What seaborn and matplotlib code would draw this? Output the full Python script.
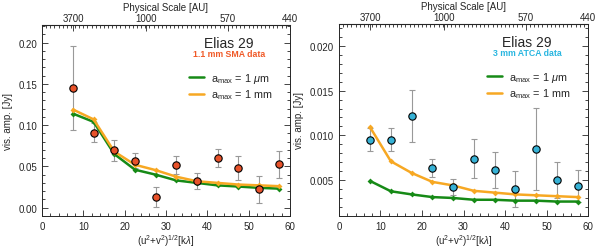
import matplotlib
matplotlib.use("Agg")
import matplotlib.pyplot as plt
import numpy as np
import seaborn as sns
from matplotlib.ticker import MultipleLocator
from matplotlib.lines import Line2D

# uv distance bins [klambda]
uv = [7.5, 12.5, 17.5, 22.5, 27.5, 32.5, 37.5, 42.5, 47.5, 52.5, 57.5]

# 1.1 mm SMA data
sma_amp = [0.145, 0.091, 0.0695, 0.057, 0.0126, 0.052, 0.032, 0.0606, 0.0484, 0.022, 0.0525]
sma_err = [0.051, 0.012, 0.013, 0.009, 0.012, 0.011, 0.010, 0.011, 0.0145, 0.016, 0.016]
sma_mod_um = [0.114, 0.104, 0.065, 0.046, 0.040, 0.033, 0.030, 0.027, 0.0256, 0.024, 0.023]
sma_mod_mm = [0.119, 0.107, 0.068, 0.052, 0.0455, 0.0375, 0.032, 0.030, 0.028, 0.027, 0.026]

# 3 mm ATCA data
atca_amp = [0.0095, 0.0095, 0.0122, 0.0064, 0.0042, 0.0074, 0.0061, 0.0040, 0.0085, 0.0050, 0.0043]
atca_err = [0.0013, 0.0013, 0.0029, 0.0010, 0.0009, 0.0022, 0.0020, 0.0020, 0.0046, 0.0020, 0.0018]
atca_mod_um = [0.0049, 0.00375, 0.0034, 0.0031, 0.0030, 0.0028, 0.0028, 0.0027, 0.0027, 0.0026, 0.0026]
atca_mod_mm = [0.0109, 0.0071, 0.0058, 0.0048, 0.0044, 0.0038, 0.0036, 0.0034, 0.0033, 0.0032, 0.0031]

# top axis: physical scale
au_pos = [7.5, 25.2, 45.0, 60.0]
au_labels = ["3700", "1000", "570", "440"]

sns.set_style("ticks")
plt.rcParams['font.family'] = ['Liberation Sans', 'DejaVu Sans']
plt.rcParams['mathtext.fontset'] = 'custom'
plt.rcParams['mathtext.rm'] = 'Liberation Sans'
plt.rcParams['mathtext.it'] = 'Liberation Sans:italic'

green = "#168a16"
orange = "#f7a823"

fig = plt.figure(figsize=(6.0, 2.51), dpi=100)
ax1 = fig.add_axes([0.07, 0.136, 0.413, 0.762])
ax2 = fig.add_axes([0.565, 0.136, 0.415, 0.766])


def panel(ax, amp, err, mod_um, mod_mm, pt_color, label, lab_color, ylim, ymajor, yminor, yfmt):
    ax.errorbar(uv, amp, yerr=err, fmt="none", ecolor="#999999", elinewidth=0.8,
                capsize=2.5, capthick=0.8, zorder=2)
    sns.lineplot(x=uv, y=mod_um, ax=ax, color=green, lw=1.8, marker="D", markersize=3,
                 markeredgewidth=0, zorder=3)
    sns.lineplot(x=uv, y=mod_mm, ax=ax, color=orange, lw=1.8, marker="D", markersize=3,
                 markeredgewidth=0, zorder=3)
    sns.scatterplot(x=uv, y=amp, ax=ax, color=pt_color, edgecolor="black", linewidth=0.8,
                    s=28, zorder=4)
    ax.set_xlim(0, 60)
    ax.set_ylim(*ylim)
    ax.xaxis.set_major_locator(MultipleLocator(10))
    ax.xaxis.set_minor_locator(MultipleLocator(2))
    ax.yaxis.set_major_locator(MultipleLocator(ymajor))
    ax.yaxis.set_minor_locator(MultipleLocator(yminor))
    ax.yaxis.set_major_formatter(yfmt)
    ax.tick_params(which="both", direction="in", right=True, labelsize=7, width=0.6)
    ax.tick_params(which="major", length=4)
    ax.tick_params(which="minor", length=2)
    for s in ax.spines.values():
        s.set_linewidth(0.7)
    ax.set_xlabel(r"(u$^2$+v$^2$)$^{1/2}$[k$\lambda$]", fontsize=7, labelpad=1)
    ax.set_ylabel("vis. amp. [Jy]", fontsize=7, labelpad=4)

    top = ax.secondary_xaxis("top")
    top.set_xticks(au_pos)
    top.set_xticklabels(au_labels)
    top.xaxis.set_minor_locator(MultipleLocator(1))
    top.tick_params(which="both", direction="in", labelsize=7, width=0.6, pad=1.5)
    top.tick_params(which="major", length=4)
    top.tick_params(which="minor", length=2)
    top.set_xlabel("Physical Scale [AU]", fontsize=7, labelpad=1.5)

    ax.text(0.755, 0.905, "Elias 29", transform=ax.transAxes, ha="center", va="center",
            fontsize=10)
    ax.text(0.755, 0.85, label, transform=ax.transAxes, ha="center", va="center",
            fontsize=6.3, color=lab_color, fontweight="bold")
    handles = [Line2D([], [], color=green, lw=1.8),
               Line2D([], [], color=orange, lw=1.8)]
    ax.legend(handles, [r"a$_{\rm max}$ = 1 $\mu$m", r"a$_{\rm max}$ = 1 mm"],
              loc="upper left", bbox_to_anchor=(0.555, 0.81), frameon=False,
              fontsize=7.8, handlelength=1.4, handletextpad=0.6, labelspacing=0.25)


panel(ax1, sma_amp, sma_err, sma_mod_um, sma_mod_mm, "#e8522a", "1.1 mm SMA data",
      "#f05a28", (-0.01, 0.222), 0.05, 0.01, "{x:.2f}")
panel(ax2, atca_amp, atca_err, atca_mod_um, atca_mod_mm, "#36b2d6", "3 mm ATCA data",
      "#29b6e0", (0.001, 0.0225), 0.005, 0.001, "{x:.3f}")

fig.savefig("out.png", dpi=100)
